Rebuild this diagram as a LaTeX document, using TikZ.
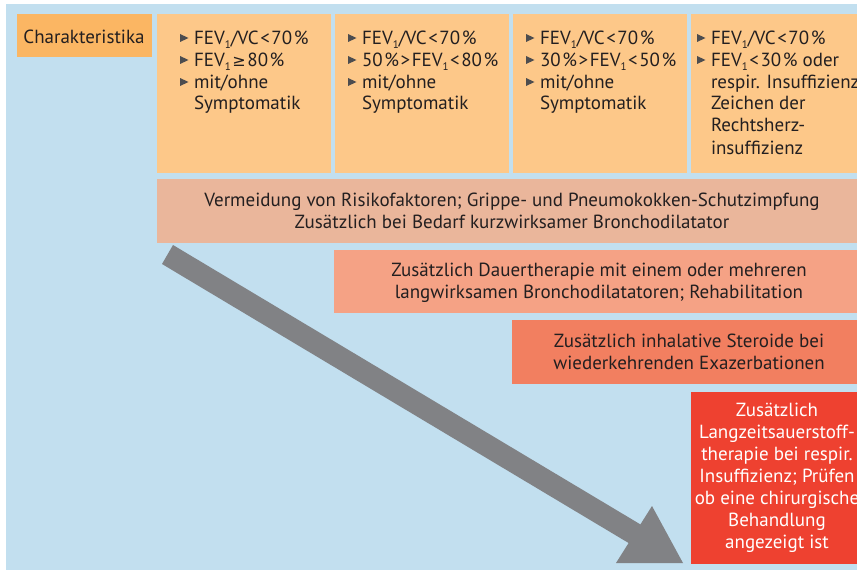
\documentclass[tikz,border=0pt]{standalone}
\usepackage{fontspec}
\setmainfont{PT Sans}
\newfontfamily\symfont{DejaVu Sans}
\definecolor{bgblue}{HTML}{C2DFEF}
\definecolor{charbox}{HTML}{FBB663}
\definecolor{colbox}{HTML}{FDC889}
\definecolor{rowA}{HTML}{EAB69B}
\definecolor{rowB}{HTML}{F5A285}
\definecolor{rowC}{HTML}{F27F60}
\definecolor{rowD}{HTML}{EE4130}
\definecolor{arrowgray}{HTML}{818285}
\definecolor{bulletgray}{HTML}{4D4D4F}
\definecolor{textdark}{HTML}{231F20}
\newcommand\mainsize{\fontsize{19}{22}\selectfont}
\newcommand\FEV{FEV\raisebox{-4.8pt}{\fontsize{11}{11}\selectfont 1}}
\newcommand\bul{\makebox[14pt][l]{\raisebox{2pt}{\tikz\fill[bulletgray](0pt,0pt)--(8.5pt,4pt)--(0pt,8pt)--cycle;}}}
\newcommand\ind{\hspace*{14pt}}
\newcommand\ts{\hspace{1.6pt}}
\newcommand\geqsym{{\symfont\fontsize{16}{16}\selectfont ≥}}
\begin{document}
\begin{tikzpicture}[x=1pt,y=-1pt,
  panel/.style={anchor=north west, inner sep=0pt, outer sep=0pt, draw=none},
  txt/.style={inner sep=0pt, outer sep=0pt, font=\mainsize, text=textdark},
  wtxt/.style={inner sep=0pt, outer sep=0pt, font=\mainsize, text=white}]
\useasboundingbox (0,0) rectangle (857,570);
\fill[white] (0,0) rectangle (857,570);
\fill[bgblue] (6,4) rectangle (857,570);
% boxes
\node[panel, fill=charbox, minimum width=135pt, minimum height=43pt] (cb) at (17,14) {};
\node[panel, fill=colbox, minimum width=174pt, minimum height=159pt] (c1) at (157,14) {};
\node[panel, fill=colbox, minimum width=174pt, minimum height=159pt] (c2) at (335,14) {};
\node[panel, fill=colbox, minimum width=174pt, minimum height=159pt] (c3) at (513,14) {};
\node[panel, fill=colbox, minimum width=166pt, minimum height=159pt] (c4) at (691,14) {};
\node[panel, fill=rowA, minimum width=700pt, minimum height=64pt] (r1) at (157,179) {};
\node[panel, fill=rowB, minimum width=523pt, minimum height=63pt] (r2) at (334,250) {};
\node[panel, fill=rowC, minimum width=345pt, minimum height=64pt] (r3) at (512,320) {};
\node[panel, fill=rowD, minimum width=166pt, minimum height=172pt] (r4) at (691,392) {};
% arrow
\fill[arrowgray] (173,245) -- (640.4,524.4) -- (652,506) -- (683,563) -- (616,563) -- (628.6,543) -- (162,264) -- cycle;
% texts
\node[txt, anchor=base] (tcb) at (84,43.5) {Charakteristika};
\node[txt, anchor=base west] (t1) at (180,44) {\begin{tabular}[t]{@{}l@{}}\bul\FEV/VC\ts<\ts70\ts\%\\ \bul\FEV\ts\geqsym\ts80\ts\%\\ \bul mit/ohne\\ \ind Symptomatik\end{tabular}};
\node[txt, anchor=base west] (t2) at (348,44) {\begin{tabular}[t]{@{}l@{}}\bul\FEV/VC\ts<\ts70\ts\%\\ \bul 50\ts\%\ts>\ts\FEV\ts<\ts80\ts\%\\ \bul mit/ohne\\ \ind Symptomatik\end{tabular}};
\node[txt, anchor=base west] (t3) at (526,44) {\begin{tabular}[t]{@{}l@{}}\bul\FEV/VC\ts<\ts70\ts\%\\ \bul 30\ts\%\ts>\ts\FEV\ts<\ts50\ts\%\\ \bul mit/ohne\\ \ind Symptomatik\end{tabular}};
\node[txt, anchor=base west] (t4) at (697,44) {\begin{tabular}[t]{@{}l@{}}\bul\FEV/VC\ts<\ts70\ts\%\\ \bul\FEV\ts<\ts30\ts\% oder\\ \ind respir. Insuffizienz/\\ \ind Zeichen der\\ \ind Rechtsherz-\\ \ind insuffizienz\end{tabular}};
\node[txt, anchor=base] (tr1) at (512,206) {\begin{tabular}[t]{@{}c@{}}Vermeidung von Risikofaktoren; Grippe- und Pneumokokken-Schutzimpfung\\ Zusätzlich bei Bedarf kurzwirksamer Bronchodilatator\end{tabular}};
\node[txt, anchor=base] (tr2) at (599,276.5) {\begin{tabular}[t]{@{}c@{}}Zusätzlich Dauertherapie mit einem oder mehreren\\ langwirksamen Bronchodilatatoren; Rehabilitation\end{tabular}};
\node[txt, anchor=base] (tr3) at (689,347) {\begin{tabular}[t]{@{}c@{}}Zusätzlich inhalative Steroide bei\\ wiederkehrenden Exazerbationen\end{tabular}};
\node[wtxt, anchor=base] (tr4) at (777,416) {\begin{tabular}[t]{@{}c@{}}Zusätzlich\\ Langzeitsauerstoff-\\ therapie bei respir.\\ Insuffizienz; Prüfen\\ ob eine chirurgische\\ Behandlung\\ angezeigt ist\end{tabular}};
\end{tikzpicture}
\end{document}
